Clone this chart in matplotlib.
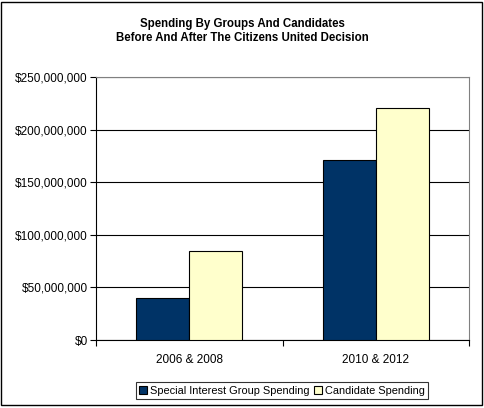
import numpy as np
import matplotlib.pyplot as plt
from matplotlib.ticker import FuncFormatter

plt.rcParams['font.family'] = ['Liberation Sans', 'DejaVu Sans']

categories = ['2006 & 2008', '2010 & 2012']
group_spending = [40000000, 171000000]
candidate_spending = [84500000, 220500000]
series_names = ['Special Interest Group Spending', 'Candidate Spending']

fig = plt.figure(figsize=(4.84, 4.08), dpi=100)
# outer chart border
fig.patches.append(plt.Rectangle((0.002, 0.008), 0.994, 0.988, transform=fig.transFigure,
                                 fill=False, edgecolor='black', linewidth=1.0))

ax = fig.add_axes([96 / 484, 1 - 340 / 408, (469 - 96) / 484, (340 - 77) / 408])

ind = np.arange(len(categories)) + 0.5
width = 0.285
ax.bar(ind - width / 2, group_spending, width, color='#003366', edgecolor='black',
       linewidth=0.8, label=series_names[0], zorder=3)
ax.bar(ind + width / 2, candidate_spending, width, color='#FFFFCC', edgecolor='black',
       linewidth=0.8, label=series_names[1], zorder=3)

ax.set_xlim(0, len(categories))
ax.set_ylim(0, 250000000)
ax.set_yticks(np.arange(0, 250000001, 50000000))
ax.yaxis.set_major_formatter(FuncFormatter(lambda v, p: '${:,.0f}'.format(v)))
ax.yaxis.grid(True, color='black', linewidth=0.8, zorder=0)

ax.set_xticks(np.arange(len(categories) + 1))
ax.set_xticklabels([])
ax.set_xticks(ind, minor=True)
ax.set_xticklabels(categories, minor=True)
ax.tick_params(axis='x', which='minor', length=0, pad=10, labelsize=8.5)
ax.tick_params(axis='x', which='major', length=4, direction='out')
ax.tick_params(axis='y', length=4, direction='out', pad=2, labelsize=8.5)

for s in ['top', 'right']:
    ax.spines[s].set_color('#808080')
for s in ['left', 'bottom']:
    ax.spines[s].set_color('black')

fig.text(0.5, 1 - 31 / 408, 'Spending By Groups And Candidates\nBefore And After The Citizens United Decision',
         ha='center', va='center', fontsize=8.3, fontweight='bold', linespacing=1.15)

leg = fig.legend(loc='center', bbox_to_anchor=(282 / 484, 1 - 390.5 / 408), ncol=2,
                 fontsize=7.9, frameon=True, fancybox=False, edgecolor='black',
                 handlelength=0.7, handleheight=0.7, handletextpad=0.3, columnspacing=0.4,
                 borderpad=0.3, borderaxespad=0)
leg.get_frame().set_linewidth(0.8)

fig.savefig('out.png', dpi=100)
